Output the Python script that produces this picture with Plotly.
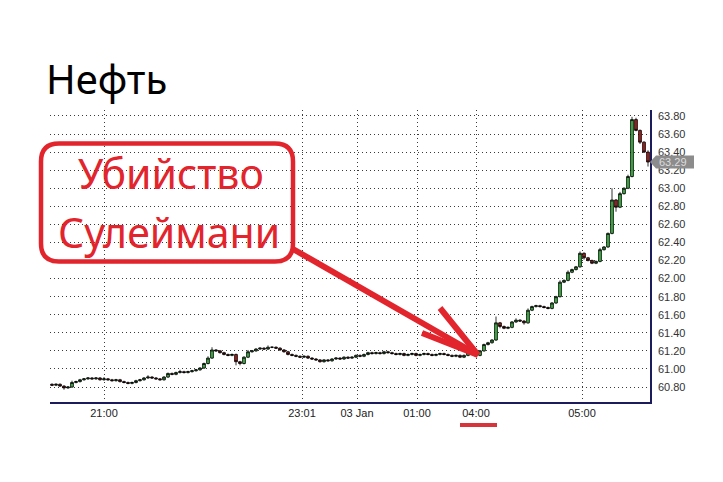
import plotly.graph_objects as go

# ---------------- data ----------------
closes = [
    60.82, 60.83, 60.81, 60.79, 60.80, 60.85, 60.86, 60.88, 60.89, 60.90,
    60.89, 60.90, 60.88, 60.89, 60.88, 60.87, 60.88, 60.86, 60.85, 60.84,
    60.85, 60.87, 60.88, 60.90, 60.91, 60.90, 60.89, 60.88, 60.91, 60.95,
    60.94, 60.96, 60.97, 60.96, 60.97, 60.98, 60.99, 61.01, 61.06, 61.12,
    61.21, 61.20, 61.18, 61.16, 61.15, 61.16, 61.08, 61.06, 61.13, 61.19,
    61.20, 61.22, 61.23, 61.22, 61.24, 61.24, 61.23, 61.21, 61.19, 61.16,
    61.15, 61.14, 61.13, 61.14, 61.12, 61.11, 61.10, 61.08, 61.10, 61.09,
    61.11, 61.12, 61.11, 61.13, 61.12, 61.13, 61.15, 61.14, 61.16, 61.18,
    61.17, 61.18, 61.17, 61.19, 61.18, 61.17, 61.16, 61.17, 61.15, 61.16,
    61.17, 61.15, 61.16, 61.17, 61.16, 61.15, 61.16, 61.17, 61.16, 61.15,
    61.14, 61.15, 61.13, 61.15, 61.18, 61.17, 61.15, 61.20, 61.27, 61.29,
    61.32, 61.51, 61.47, 61.45, 61.46, 61.52, 61.54, 61.53, 61.51, 61.65,
    61.69, 61.70, 61.69, 61.68, 61.67, 61.73, 61.80, 61.96, 61.98, 62.07,
    62.10, 62.13, 62.28, 62.23, 62.20, 62.17, 62.19, 62.32, 62.35, 62.50,
    62.87, 62.79, 62.94, 63.00, 63.13, 63.76, 63.64, 63.51, 63.40, 63.29,
]
first_open = 60.83
upper_wick = [
    .01, .01, .01, .01, .01, .02, .01, .01, .01, .01,
    .01, .01, .01, .02, .01, .01, .01, .01, .01, .01,
    .01, .01, .01, .01, .02, .01, .01, .01, .01, .01,
    .01, .01, .02, .01, .01, .01, .01, .01, .01, .02,
    .03, .01, .01, .01, .01, .01, .01, .01, .01, .02,
    .01, .01, .01, .01, .02, .01, .01, .01, .01, .01,
    .01, .01, .01, .01, .01, .01, .01, .01, .01, .01,
    .01, .01, .01, .01, .01, .01, .01, .01, .01, .01,
    .01, .01, .01, .01, .01, .01, .01, .01, .01, .01,
    .01, .01, .01, .01, .01, .01, .01, .01, .01, .01,
    .01, .01, .01, .01, .01, .01, .01, .01, .01, .01,
    .01, .07, .01, .01, .01, .01, .02, .01, .01, .02,
    .01, .01, .01, .01, .01, .01, .01, .02, .01, .02,
    .01, .01, .02, .01, .01, .01, .01, .02, .01, .01,
    .13, .01, .02, .01, .02, .03, .02, .01, .01, .02,
]
lower_wick = [
    .01, .01, .01, .02, .01, .01, .01, .01, .01, .01,
    .01, .01, .01, .01, .01, .01, .01, .01, .01, .01,
    .01, .01, .01, .01, .01, .01, .01, .01, .01, .01,
    .01, .01, .01, .01, .01, .01, .01, .01, .01, .01,
    .01, .01, .01, .01, .01, .01, .04, .02, .01, .01,
    .01, .01, .01, .01, .01, .01, .01, .01, .01, .01,
    .01, .01, .01, .01, .01, .01, .01, .01, .01, .01,
    .01, .01, .01, .01, .01, .01, .01, .01, .01, .01,
    .01, .01, .01, .01, .01, .01, .01, .01, .01, .01,
    .01, .01, .01, .01, .01, .01, .01, .01, .01, .01,
    .01, .01, .01, .01, .01, .01, .01, .01, .01, .01,
    .01, .01, .02, .01, .01, .01, .01, .01, .02, .01,
    .01, .01, .01, .01, .01, .01, .01, .01, .01, .01,
    .01, .01, .01, .02, .01, .01, .01, .01, .01, .01,
    .01, .05, .01, .01, .01, .01, .01, .02, .01, .05,
]
tick_pos = [13, 62.5, 76.25, 91.25, 106, 132.5]
tick_text = ["21:00", "23:01", "03 Jan", "01:00", "04:00", "05:00"]
y_ticks = [60.80, 61.00, 61.20, 61.40, 61.60, 61.80, 62.00, 62.20, 62.40,
           62.60, 62.80, 63.00, 63.20, 63.40, 63.60, 63.80]
last_price = 63.29
title_text = "Нефть"
note_lines = ["Убийство", "Сулеймани"]

opens = [first_open] + closes[:-1]
highs = [max(o, c) + w for o, c, w in zip(opens, closes, upper_wick)]
lows = [min(o, c) - w for o, c, w in zip(opens, closes, lower_wick)]
xs = list(range(len(closes)))

# ---------------- layout geometry (page pixels) ----------------
W, H = 723, 482
PAGE = 8  # default body margin of the html page
L, R, T, B = 50, 650, 110, 402


def px(x):
    return (x - L) / (R - L)


def py(y):
    return (B - y) / (B - T)


RED = "#e2252d"

fig = go.Figure(go.Candlestick(
    x=xs, open=opens, high=highs, low=lows, close=closes,
    increasing=dict(line=dict(color="#000000", width=0.8), fillcolor="#3cb043"),
    decreasing=dict(line=dict(color="#000000", width=0.8), fillcolor="#a3201f"),
    whiskerwidth=0,
    hoverinfo="skip",
))

shapes = []
x0, x1, y0, y1, r = 41, 293, 143.5, 261.5, 18
path = (f"M {px(x0 + r)} {py(y0)} L {px(x1 - r)} {py(y0)} "
        f"Q {px(x1)} {py(y0)} {px(x1)} {py(y0 + r)} "
        f"L {px(x1)} {py(y1 - r)} Q {px(x1)} {py(y1)} {px(x1 - r)} {py(y1)} "
        f"L {px(x0 + r)} {py(y1)} Q {px(x0)} {py(y1)} {px(x0)} {py(y1 - r)} "
        f"L {px(x0)} {py(y0 + r)} Q {px(x0)} {py(y0)} {px(x0 + r)} {py(y0)} Z")
shapes.append(dict(type="path", xref="paper", yref="paper", path=path,
                   line=dict(color=RED, width=4.5), fillcolor="rgba(0,0,0,0)"))
tip = (478, 355)
for sx, sy in [(293, 249), (440, 308), (422, 333)]:
    shapes.append(dict(type="line", xref="paper", yref="paper",
                       x0=px(sx), y0=py(sy), x1=px(tip[0]), y1=py(tip[1]),
                       line=dict(color=RED, width=6)))
shapes.append(dict(type="line", xref="paper", yref="paper",
                   x0=px(460), y0=py(425), x1=px(497), y1=py(425),
                   line=dict(color="#d6343a", width=4)))
ph = 6.5 / 90.3
tag = (f"M {px(650)} {last_price} L {px(656)} {last_price + ph} "
       f"L {px(694)} {last_price + ph} L {px(694)} {last_price - ph} "
       f"L {px(656)} {last_price - ph} Z")
shapes.append(dict(type="path", xref="paper", yref="y", path=tag,
                   line=dict(width=0), fillcolor="#8c8c8c"))

annotations = [
    dict(text=title_text, xref="paper", yref="paper", x=px(44), y=py(78),
         xanchor="left", yanchor="middle", showarrow=False,
         font=dict(family="Noto Sans", size=40, color="#000000")),
    dict(text=note_lines[0], xref="paper", yref="paper", x=px(171), y=py(173),
         xanchor="center", yanchor="middle", showarrow=False,
         font=dict(family="Noto Sans", size=41, color=RED)),
    dict(text=note_lines[1], xref="paper", yref="paper", x=px(169), y=py(232),
         xanchor="center", yanchor="middle", showarrow=False,
         font=dict(family="Noto Sans", size=41, color=RED)),
    dict(text=f"{last_price:.2f}", xref="paper", yref="y", x=px(657), y=last_price,
         xanchor="left", yanchor="middle", showarrow=False,
         font=dict(family="Liberation Sans", size=11, color="#dcdcdc")),
]

fig.update_layout(
    width=W - PAGE, height=H - PAGE, autosize=False,
    margin=dict(l=L - PAGE, r=W - R, t=T - PAGE, b=H - B, pad=0),
    paper_bgcolor="white", plot_bgcolor="white",
    showlegend=False, boxgap=0,
    shapes=shapes, annotations=annotations,
    xaxis=dict(
        range=[-0.5, len(closes) - 0.5],
        rangeslider=dict(visible=False),
        tickmode="array", tickvals=tick_pos, ticktext=tick_text,
        showgrid=True, gridcolor="#3a3a3a", gridwidth=1, griddash="1px,3px",
        showline=True, linecolor="#1c1c5c", linewidth=1.5,
        zeroline=False, ticks="",
        tickfont=dict(family="Liberation Sans", size=11, color="#222222"),
    ),
    yaxis=dict(
        side="right",
        range=[60.634, 63.866],
        tickmode="array", tickvals=y_ticks, tickformat=".2f",
        showgrid=True, gridcolor="#3a3a3a", gridwidth=1, griddash="1px,3px",
        showline=True, linecolor="#1c1c5c", linewidth=1.5,
        zeroline=False, ticks="", ticklabelstandoff=4,
        tickfont=dict(family="Liberation Sans", size=11, color="#333333"),
    ),
)

fig.write_html("out.html")
